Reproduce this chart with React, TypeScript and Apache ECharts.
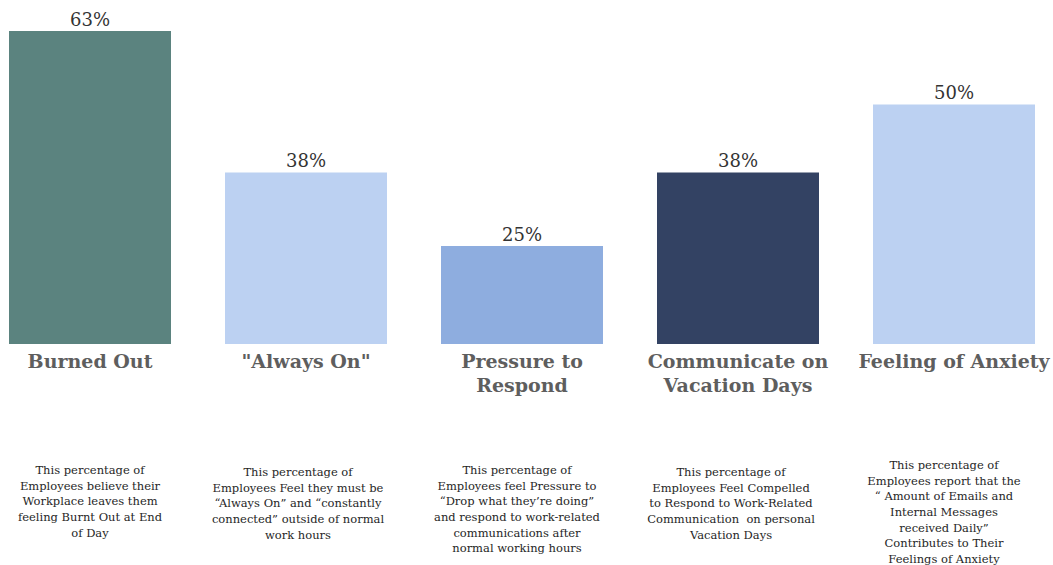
import React, { useEffect, useRef } from "react";
import * as echarts from "echarts";

const categories = [
  "Burned Out",
  "\"Always On\"",
  "Pressure to\nRespond",
  "Communicate on\nVacation Days",
  "Feeling of Anxiety",
];
const values = [63, 38, 25, 38, 50];
const barColors = ["#5b837f", "#bcd1f2", "#8eaddf", "#334263", "#bcd1f2"];
const descriptions = [
  "This percentage of\nEmployees believe their\nWorkplace leaves them\nfeeling Burnt Out at End\nof Day",
  "This percentage of\nEmployees Feel they must be\n\u201cAlways On\u201d and \u201cconstantly\nconnected\u201d outside of normal\nwork hours",
  "This percentage of\nEmployees feel Pressure to\n\u201cDrop what they\u2019re doing\u201d\nand respond to work-related\ncommunications after\nnormal working hours",
  "This percentage of\nEmployees Feel Compelled\nto Respond to Work-Related\nCommunication  on personal\nVacation Days",
  "This percentage of\nEmployees report that the\n\u201c Amount of Emails and\nInternal Messages\nreceived Daily\u201d\nContributes to Their\nFeelings of Anxiety",
];
const descTops = [462, 464, 462, 464, 457];
const descShift = [0, -8, -5, -7, -10];

export default function App() {
  const ref = useRef<HTMLDivElement>(null);
  useEffect(() => {
    if (!ref.current) return;
    const chart = echarts.init(ref.current, null, { renderer: "svg" });
    const serif = "'DejaVu Serif', Georgia, serif";
    chart.setOption({
      animation: false,
      grid: { left: 0, right: 0, top: 31, bottom: 565 - 344, containLabel: false },
      xAxis: {
        type: "category",
        data: categories,
        axisLine: { show: false },
        axisTick: { show: false },
        axisLabel: {
          interval: 0,
          margin: 5,
          fontFamily: serif,
          fontWeight: "bold",
          fontSize: 19,
          lineHeight: 24,
          color: "#5e5e5e",
          verticalAlign: "top",
        },
      },
      yAxis: {
        type: "value",
        min: 7.7,
        max: 63,
        show: false,
        splitLine: { show: false },
      },
      series: [
        {
          type: "bar",
          data: values.map((v, i) => ({ value: v, itemStyle: { color: barColors[i] } })),
          barWidth: 162,
          clip: true,
          label: {
            show: true,
            position: "top",
            distance: 3,
            formatter: "{c}%",
            fontFamily: serif,
            fontSize: 18,
            color: "#333333",
          },
        },
      ],
    });
    const graphics = categories.map((c, i) => {
      const x = chart.convertToPixel({ xAxisIndex: 0 }, i) as number;
      return {
        type: "text",
        x: x + descShift[i],
        y: descTops[i],
        style: {
          text: descriptions[i],
          fontFamily: serif,
          fontSize: 11.5,
          lineHeight: 15.7,
          fill: "#262626",
          textAlign: "center",
          textVerticalAlign: "top",
        },
      };
    });
    chart.setOption({ graphic: graphics });
    return () => chart.dispose();
  }, []);
  return (
    <div
      style={{ position: "absolute", left: 0, top: 0, width: 1053, height: 565, overflow: "hidden", background: "#ffffff" }}
    >
      <div
        ref={ref}
        style={{ position: "absolute", left: -18, top: 0, width: 1080, height: 565 }}
      />
    </div>
  );
}
